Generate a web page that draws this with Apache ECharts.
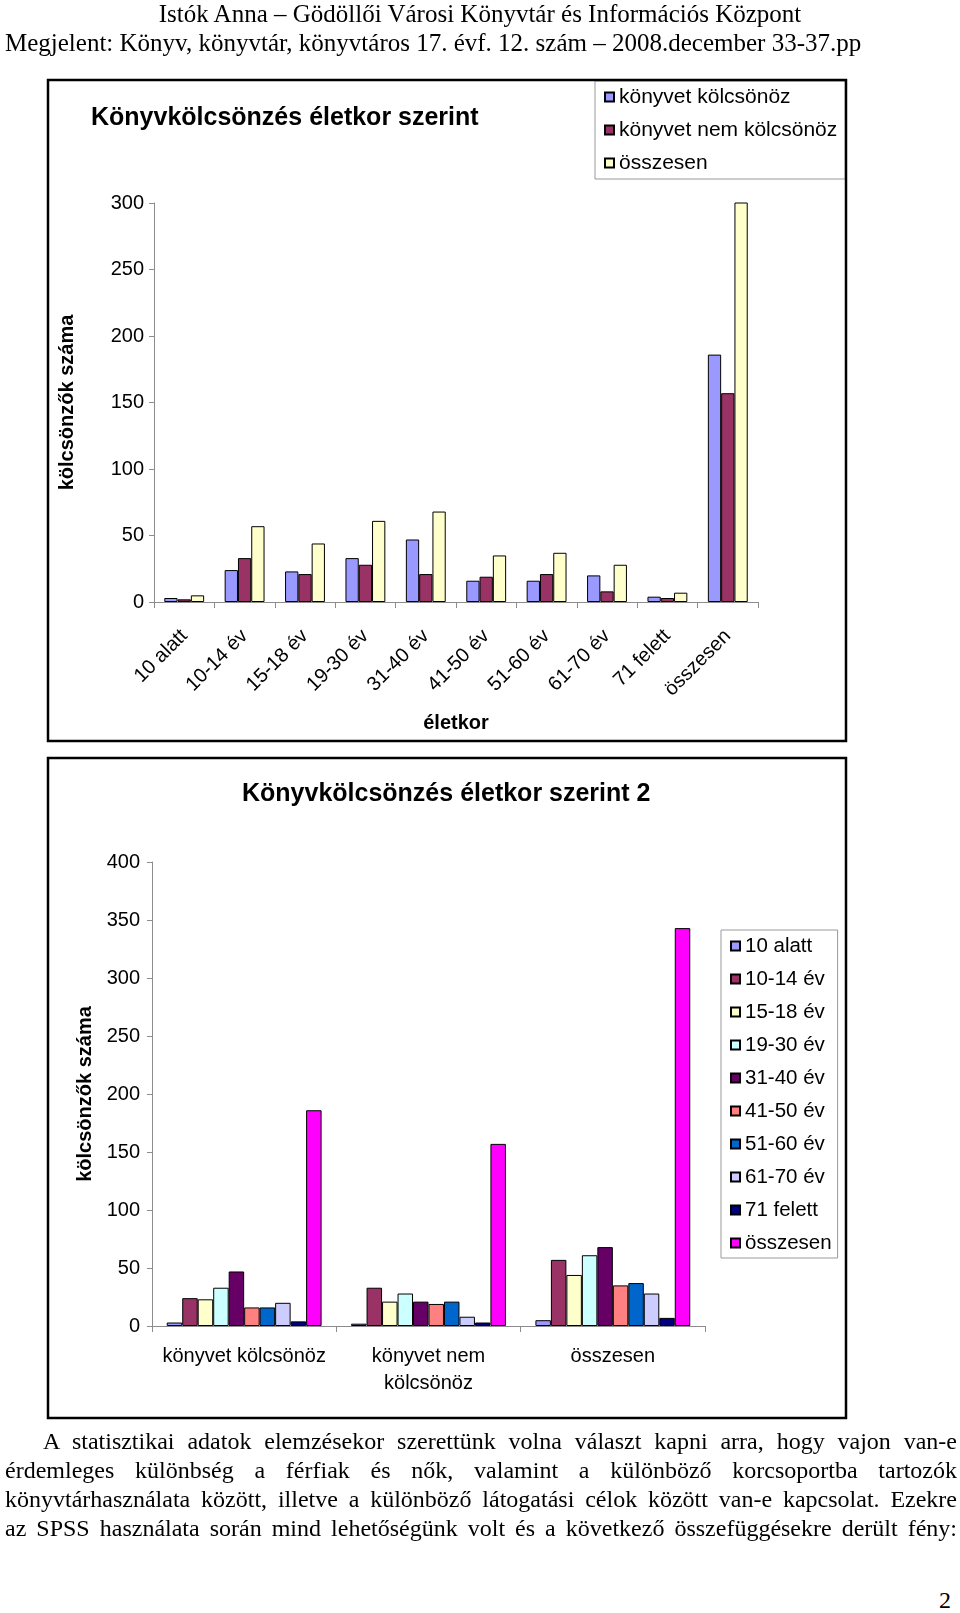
<!DOCTYPE html>
<html>
<head>
<meta charset="utf-8">
<script src="https://cdn.jsdelivr.net/npm/echarts@6/dist/echarts.min.js"></script>
<style>
  html, body { margin: 0; padding: 0; background: #fff; }
  body { width: 960px; height: 1613px; position: relative; overflow: hidden; }
  #c1 { position: absolute; left: 0; top: 0; width: 960px; height: 750px; }
  #c2 { position: absolute; left: 0; top: 750px; width: 960px; height: 680px; }
  .serif { position: absolute; font-family: "Liberation Serif", "Times New Roman", serif; color: #000; white-space: nowrap; }
  .hdr { font-size: 25px; line-height: 29px; }
  .para { left: 5px; width: 952px; font-size: 24px; line-height: 29px; text-align: justify; text-align-last: justify; }
</style>
</head>
<body>
<div id="c1"></div>
<div id="c2"></div>
<div class="serif hdr" id="h1" style="left:0; width:960px; text-align:center; top:-1px;"></div>
<div class="serif hdr" id="h2" style="left:5px; top:28px;"></div>
<div id="para"></div>
<div class="serif" id="pnum" style="left:939px; top:1586px; font-size:24px; line-height:29px;">2</div>
<script>
// ---------- data ----------
const ageGroups = ['10 alatt', '10-14 év', '15-18 év', '19-30 év', '31-40 év', '41-50 év', '51-60 év', '61-70 év', '71 felett', 'összesen'];
const groupNames = ['könyvet kölcsönöz', 'könyvet nem kölcsönöz', 'összesen'];
const groupAxisLabels = ['könyvet kölcsönöz', 'könyvet nem\nkölcsönöz', 'összesen'];
const kolcsonoz = [3, 24, 23, 33, 47, 16, 16, 20, 4, 186];
const nemKolcsonoz = [2, 33, 21, 28, 21, 19, 21, 8, 3, 157];
const osszesen = [5, 57, 44, 61, 68, 35, 37, 28, 7, 343];
const chart1Title = 'Könyvkölcsönzés életkor szerint';
const chart2Title = 'Könyvkölcsönzés életkor szerint 2';
const yAxisName = 'kölcsönzők száma';
const xAxisName1 = 'életkor';
const y1Max = 300, y2Max = 400, yStep = 50;
const headerLines = [
  'Istók Anna – Gödöllői Városi Könyvtár és Információs Központ',
  'Megjelent: Könyv, könyvtár, könyvtáros 17. évf. 12. szám – 2008.december 33-37.pp'
];
const paragraphLines = [
  'A statisztikai adatok elemzésekor szerettünk volna választ kapni arra, hogy vajon van-e',
  'érdemleges különbség a férfiak és nők, valamint a különböző korcsoportba tartozók',
  'könyvtárhasználata között, illetve a különböző látogatási célok között van-e kapcsolat. Ezekre',
  'az SPSS használata során mind lehetőségünk volt és a következő összefüggésekre derült fény:'
];

// ---------- styles ----------
const FONT = '"Liberation Sans", Arial, sans-serif';
const palette1 = ['#9999FF', '#993366', '#FFFFCC'];
const palette2 = ['#9999FF', '#993366', '#FFFFCC', '#CCFFFF', '#660066', '#FF8080', '#0066CC', '#CCCCFF', '#000080', '#FF00FF'];
const axisGrey = '#8c8c8c';

// ---------- page text ----------
document.getElementById('h1').textContent = headerLines[0];
document.getElementById('h2').textContent = headerLines[1];
const para = document.getElementById('para');
paragraphLines.forEach((t, i) => {
  const d = document.createElement('div');
  d.className = 'serif para';
  d.style.top = (1427 + i * 29) + 'px';
  if (i === 0) { d.style.left = '43px'; d.style.width = '914px'; }
  d.textContent = t;
  para.appendChild(d);
});

// ---------- chart 1 ----------
const c1 = echarts.init(document.getElementById('c1'), null, { renderer: 'canvas' });
c1.setOption({
  animation: false,
  textStyle: { fontFamily: FONT, color: '#000' },
  graphic: [{
    type: 'rect', shape: { x: 48, y: 80, width: 798, height: 661 },
    style: { fill: 'transparent', stroke: '#000', lineWidth: 2.5 }, z: 100
  }],
  title: {
    text: chart1Title, left: 91, top: 103, padding: 0,
    textStyle: { fontFamily: FONT, fontSize: 25, fontWeight: 'bold', color: '#000', lineHeight: 30 }
  },
  legend: {
    orient: 'vertical', left: 595, top: 81, padding: [5, 8, 5, 9],
    itemWidth: 9, itemHeight: 9, itemGap: 11, icon: 'rect',
    backgroundColor: '#fff', borderColor: '#999', borderWidth: 1,
    textStyle: { fontFamily: FONT, fontSize: 21, color: '#000', lineHeight: 22 },
    data: groupNames
  },
  grid: { left: 154, top: 203, width: 604, height: 399, containLabel: false },
  xAxis: {
    type: 'category', data: ageGroups,
    name: xAxisName1, nameLocation: 'middle', nameGap: 111,
    nameTextStyle: { fontFamily: FONT, fontSize: 20, fontWeight: 'bold', color: '#000' },
    axisLine: { lineStyle: { color: axisGrey, width: 1 } },
    axisTick: { show: true, length: 6, lineStyle: { color: axisGrey } },
    axisLabel: { rotate: 45, margin: 31, fontFamily: FONT, fontSize: 20, color: '#000', interval: 0 }
  },
  yAxis: {
    type: 'value', min: 0, max: y1Max, interval: yStep,
    name: yAxisName, nameLocation: 'middle', nameGap: 77, nameRotate: 90,
    nameTextStyle: { fontFamily: FONT, fontSize: 20, fontWeight: 'bold', color: '#000' },
    axisLine: { show: true, lineStyle: { color: axisGrey, width: 1 } },
    axisTick: { show: true, length: 5, lineStyle: { color: axisGrey } },
    splitLine: { show: false },
    axisLabel: { margin: 10, fontFamily: FONT, fontSize: 20, color: '#000' }
  },
  series: [kolcsonoz, nemKolcsonoz, osszesen].map((arr, i) => ({
    type: 'bar', name: groupNames[i], data: arr,
    barGap: '0%', barCategoryGap: '34%', clip: true,
    itemStyle: { color: palette1[i], borderColor: '#000', borderWidth: 1 }
  }))
});

// ---------- chart 2 ----------
const c2 = echarts.init(document.getElementById('c2'), null, { renderer: 'canvas' });
c2.setOption({
  animation: false,
  textStyle: { fontFamily: FONT, color: '#000' },
  graphic: [{
    type: 'rect', shape: { x: 48, y: 8, width: 798, height: 660 },
    style: { fill: 'transparent', stroke: '#000', lineWidth: 2.5 }, z: 100
  }],
  title: {
    text: chart2Title, left: 242, top: 29, padding: 0,
    textStyle: { fontFamily: FONT, fontSize: 25, fontWeight: 'bold', color: '#000', lineHeight: 30 }
  },
  legend: {
    orient: 'vertical', left: 721, top: 180, padding: [5, 6, 4, 9],
    itemWidth: 9, itemHeight: 9, itemGap: 11, icon: 'rect',
    backgroundColor: '#fff', borderColor: '#999', borderWidth: 1,
    textStyle: { fontFamily: FONT, fontSize: 20.5, color: '#000', lineHeight: 22 },
    data: ageGroups
  },
  grid: { left: 152, top: 112, width: 553, height: 464, containLabel: false },
  xAxis: {
    type: 'category', data: groupAxisLabels,
    axisLine: { lineStyle: { color: axisGrey, width: 1 } },
    axisTick: { show: true, length: 6, lineStyle: { color: axisGrey } },
    axisLabel: { margin: 17, fontFamily: FONT, fontSize: 20, color: '#000', lineHeight: 27, interval: 0 }
  },
  yAxis: {
    type: 'value', min: 0, max: y2Max, interval: yStep,
    name: yAxisName, nameLocation: 'middle', nameGap: 57, nameRotate: 90,
    nameTextStyle: { fontFamily: FONT, fontSize: 20, fontWeight: 'bold', color: '#000' },
    axisLine: { show: true, lineStyle: { color: axisGrey, width: 1 } },
    axisTick: { show: true, length: 5, lineStyle: { color: axisGrey } },
    splitLine: { show: false },
    axisLabel: { margin: 12, fontFamily: FONT, fontSize: 20, color: '#000' }
  },
  series: ageGroups.map((name, i) => ({
    type: 'bar', name: name, data: [kolcsonoz[i], nemKolcsonoz[i], osszesen[i]],
    barGap: '0%', barCategoryGap: '16%',
    itemStyle: { color: palette2[i], borderColor: '#000', borderWidth: 1 }
  }))
});
</script>
</body>
</html>
